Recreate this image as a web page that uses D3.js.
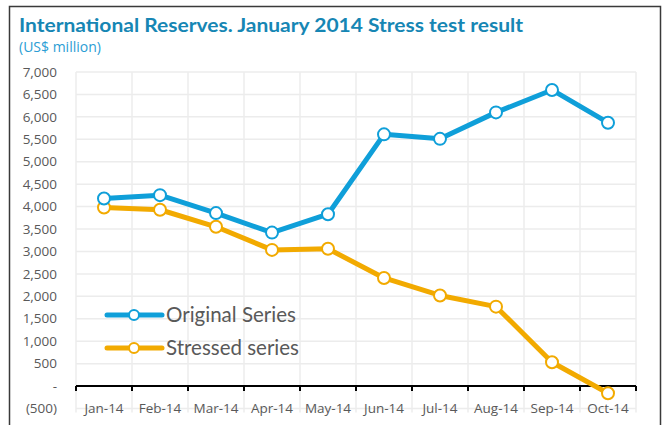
<!DOCTYPE html>
<html>
<head>
<meta charset="utf-8">
<script src="https://cdn.jsdelivr.net/npm/d3@7"></script>
<style>
  body { margin: 0; background: #fff; }
  svg { display: block; font-family: Lato, "Open Sans", sans-serif; }
</style>
</head>
<body>
<svg width="663" height="425"></svg>
<script>
// chart data
let months = ["Jan-14", "Feb-14", "Mar-14", "Apr-14", "May-14", "Jun-14", "Jul-14", "Aug-14", "Sep-14", "Oct-14"];
let originalSeries = [4180, 4255, 3855, 3420, 3830, 5610, 5510, 6100, 6600, 5870];
let stressedSeries = [3980, 3930, 3550, 3035, 3060, 2410, 2020, 1770, 530, -160];
let yTicks = [-500, 0, 500, 1000, 1500, 2000, 2500, 3000, 3500, 4000, 4500, 5000, 5500, 6000, 6500, 7000];
let seriesNames = ["Original Series", "Stressed series"];

let blue = "#0f9fd9", orange = "#f2aa00", textCol = "#595959";
let axisFont = "'Open Sans', sans-serif";

let svg = d3.select("svg");

// frame around the chart
svg.append("path")
  .attr("d", "M9.5,425 V6.5 H660.5 V425")
  .attr("fill", "none")
  .attr("stroke", "#3a3a3a")
  .attr("stroke-width", 1.5);

// titles
svg.append("text")
  .attr("x", 19).attr("y", 32)
  .attr("fill", "#1686b4")
  .attr("font-weight", "bold")
  .attr("font-size", 19)
  .attr("textLength", 504)
  .attr("lengthAdjust", "spacingAndGlyphs")
  .text("International Reserves. January 2014 Stress test result");

svg.append("text")
  .attr("x", 19).attr("y", 52)
  .attr("fill", "#2a9dd4")
  .attr("font-family", axisFont)
  .attr("font-size", 14)
  .text("(US$ million)");

let x = d3.scaleBand().domain(months).range([76, 636]);
let y = d3.scaleLinear().domain([-500, 7000]).range([408.5, 72]);

// gridlines
let grid = svg.append("g").attr("stroke", "#ececec").attr("stroke-width", 1.5);
grid.selectAll("line.h").data(yTicks).enter().append("line")
  .attr("x1", 76).attr("x2", 636)
  .attr("y1", d => y(d)).attr("y2", d => y(d));
let edges = months.map(m => x(m)).concat([x.range()[1]]);
grid.selectAll("line.v").data(edges).enter().append("line")
  .attr("x1", d => d).attr("x2", d => d)
  .attr("y1", y(7000)).attr("y2", y(-500) + 4);

// y labels (accounting style)
let fmt = d3.format(",");
svg.append("g")
  .attr("fill", textCol)
  .attr("font-family", axisFont)
  .attr("font-size", 13.5)
  .attr("text-anchor", "end")
  .selectAll("text").data(yTicks).enter().append("text")
  .attr("x", 57)
  .attr("y", d => y(d))
  .attr("dy", "0.35em")
  .text(d => d === 0 ? "-" : d < 0 ? "(" + fmt(-d) + ")" : fmt(d));

// x axis at zero
let xAxis = svg.append("g")
  .attr("transform", "translate(0," + y(0) + ")")
  .call(d3.axisBottom(x).tickSize(0).tickFormat(""));
xAxis.select(".domain").attr("stroke", "#000").attr("stroke-width", 2).attr("d", "M76,0H636");
xAxis.selectAll(".tick").remove();
xAxis.selectAll("line.edge").data(edges).enter().append("line")
  .attr("x1", d => d).attr("x2", d => d)
  .attr("y1", 0).attr("y2", 5)
  .attr("stroke", "#000").attr("stroke-width", 2);

svg.append("g")
  .attr("fill", textCol)
  .attr("font-family", axisFont)
  .attr("font-size", 13.5)
  .attr("text-anchor", "middle")
  .selectAll("text").data(months).enter().append("text")
  .attr("x", d => x(d) + x.bandwidth() / 2)
  .attr("y", 408)
  .attr("dy", "0.35em")
  .text(d => d);

// series lines + markers
let line = d3.line()
  .x((d, i) => x(months[i]) + x.bandwidth() / 2)
  .y(d => y(d));

function drawSeries(vals, col) {
  svg.append("path")
    .datum(vals)
    .attr("d", line)
    .attr("fill", "none")
    .attr("stroke", col)
    .attr("stroke-width", 5)
    .attr("stroke-linejoin", "round");
  svg.append("g").selectAll("circle").data(vals).enter().append("circle")
    .attr("cx", (d, i) => x(months[i]) + x.bandwidth() / 2)
    .attr("cy", d => y(d))
    .attr("r", 6)
    .attr("fill", "#fff")
    .attr("stroke", col)
    .attr("stroke-width", 2);
}
drawSeries(stressedSeries, orange);
drawSeries(originalSeries, blue);

// legend
let legend = svg.append("g").selectAll("g")
  .data(seriesNames).enter().append("g")
  .attr("transform", (d, i) => "translate(107," + (315 + i * 33) + ")");
legend.append("line")
  .attr("x1", 0).attr("x2", 55)
  .attr("stroke", (d, i) => i ? orange : blue)
  .attr("stroke-width", 5)
  .attr("stroke-linecap", "round");
legend.append("circle")
  .attr("cx", 27).attr("r", 5)
  .attr("fill", "#fff")
  .attr("stroke", (d, i) => i ? orange : blue)
  .attr("stroke-width", 2);
legend.append("text")
  .attr("x", 59).attr("dy", "0.36em")
  .attr("fill", textCol)
  .attr("font-size", 20.5)
  .text(d => d);
</script>
</body>
</html>
